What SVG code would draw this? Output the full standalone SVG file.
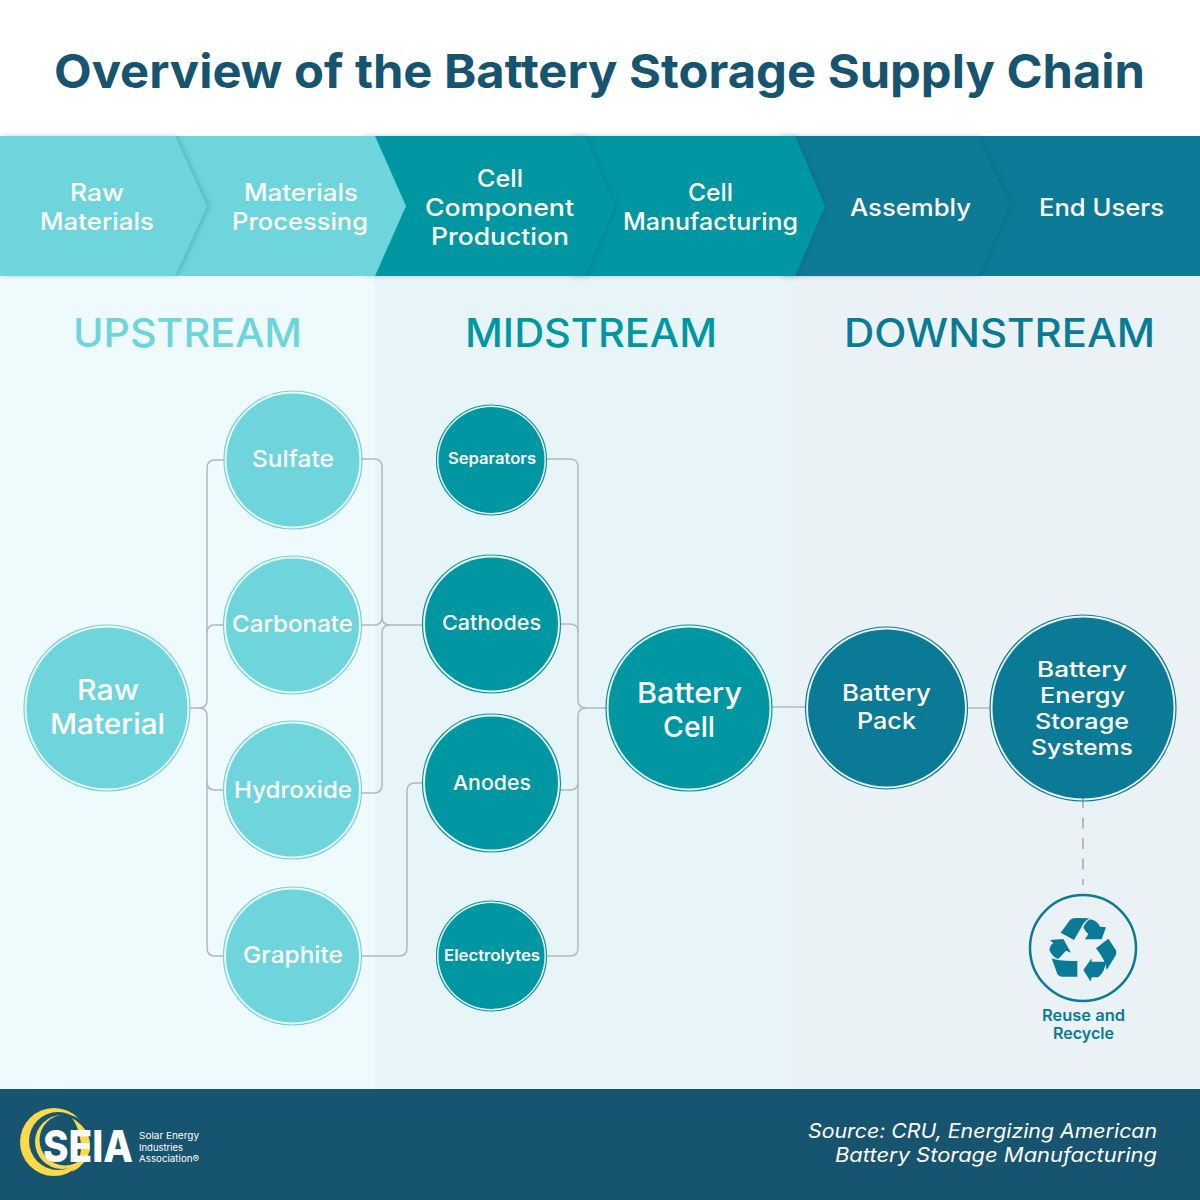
<svg xmlns="http://www.w3.org/2000/svg" width="1200" height="1200" viewBox="0 0 1200 1200">
<style>
text{font-family:Inter,"Open Sans","Liberation Sans",sans-serif;font-weight:500;fill:#fff}
.title{font-size:47px;font-weight:700;fill:#17546f}
.st{font-size:24px}
.sec{font-size:39px;font-weight:500}
.f29{font-size:28px}.f24{font-size:23.5px}.f22{font-size:21.5px}.f21{font-size:20.5px}.f16{font-size:15.5px;font-weight:600}.f30{font-size:29px}
.n{stroke-width:1.2;fill:none}
.c{fill:none;stroke:#b3b8bb;stroke-width:1.5}
.lt{fill:#6dd5db}.md{fill:#0097a2}.dk{fill:#0a7a96}
.lts{stroke:#6dd5db}.mds{stroke:#0097a2}.dks{stroke:#0a7a96}
.ref{font-size:16px;font-weight:600;fill:#0a7a96}
.src{font-size:20px;font-style:italic;font-weight:400}
.lg{font-size:9.2px;font-weight:400}
</style>
<defs>
<filter id="sh" x="-10%" y="-10%" width="125%" height="120%"><feDropShadow dx="2" dy="0" stdDeviation="2.5" flood-color="#0b4f6b" flood-opacity=".25"/></filter>
</defs>
<rect width="1200" height="1200" fill="#fff"/>
<g id="backgrounds">
<rect x="0" y="276" width="375" height="813" fill="#eefafc"/>
<rect x="375" y="276" width="417" height="813" fill="#e8f5f8"/>
<rect x="792" y="276" width="408" height="813" fill="#eaf2f6"/>
<rect x="0" y="1089" width="1200" height="111" fill="#17546f"/>
</g>
<text class="title" x="54" y="88" textLength="1091" lengthAdjust="spacingAndGlyphs">Overview of the Battery Storage Supply Chain</text>
<g id="stages">
<g id="stage-end-users"><rect class="dk" x="960" y="136" width="240" height="140"/></g>
<g id="stage-assembly"><polygon class="dk" points="780,136 978,136 1010,206 978,276 780,276" filter="url(#sh)"/></g>
<g id="stage-cell-mfg"><polygon class="md" points="570,136 795,136 825,206 795,276 570,276" filter="url(#sh)"/></g>
<g id="stage-cell-comp"><polygon class="md" points="360,136 585,136 615,206 585,276 360,276" filter="url(#sh)"/></g>
<g id="stage-processing"><polygon class="lt" points="160,136 375,136 406,206 375,276 160,276"/></g>
<g id="stage-raw"><polygon class="lt" points="0,136 175,136 207,206 175,276 0,276" filter="url(#sh)"/></g>
<text class="st" x="70" y="201" textLength="54" lengthAdjust="spacingAndGlyphs">Raw</text>
<text class="st" x="40" y="230" textLength="114" lengthAdjust="spacingAndGlyphs">Materials</text>
<text class="st" x="244" y="201" textLength="114" lengthAdjust="spacingAndGlyphs">Materials</text>
<text class="st" x="232" y="230" textLength="136" lengthAdjust="spacingAndGlyphs">Processing</text>
<text class="st" x="477" y="187" textLength="46" lengthAdjust="spacingAndGlyphs">Cell</text>
<text class="st" x="425" y="216" textLength="149" lengthAdjust="spacingAndGlyphs">Component</text>
<text class="st" x="431" y="245" textLength="138" lengthAdjust="spacingAndGlyphs">Production</text>
<text class="st" x="688" y="201" textLength="45" lengthAdjust="spacingAndGlyphs">Cell</text>
<text class="st" x="623" y="230" textLength="175" lengthAdjust="spacingAndGlyphs">Manufacturing</text>
<text class="st" x="850" y="216" textLength="121" lengthAdjust="spacingAndGlyphs">Assembly</text>
<text class="st" x="1039" y="216" textLength="125" lengthAdjust="spacingAndGlyphs">End Users</text>
</g>
<g id="sections">
<text class="sec" x="73" y="347" textLength="229" lengthAdjust="spacingAndGlyphs" style="fill:#6dd5db">UPSTREAM</text>
<text class="sec" x="465" y="347" textLength="252" lengthAdjust="spacingAndGlyphs" style="fill:#0097a2">MIDSTREAM</text>
<text class="sec" x="844" y="347" textLength="311" lengthAdjust="spacingAndGlyphs" style="fill:#0a7a96">DOWNSTREAM</text>
</g>
<g id="connectors">
<path class="c" d="M190,708H199Q207,708 207,700V468Q207,460 215,460H224"/>
<path class="c" d="M207,633Q207,625 215,625H224"/>
<path class="c" d="M199,708Q207,708 207,716V948Q207,956 215,956H224"/>
<path class="c" d="M207,782Q207,790 215,790H224"/>
<path class="c" d="M361,459H374Q382,459 382,467V617Q382,625 390,625H423"/>
<path class="c" d="M361,625H374Q382,625 382,617"/>
<path class="c" d="M361,793H374Q382,793 382,785V633Q382,625 390,625"/>
<path class="c" d="M361,956H399Q407,956 407,948V791Q407,783 415,783H423"/>
<path class="c" d="M546,459H570Q578,459 578,467V700Q578,708 586,708H607"/>
<path class="c" d="M560,624H570Q578,624 578,632"/>
<path class="c" d="M560,790H570Q578,790 578,782"/>
<path class="c" d="M546,956H570Q578,956 578,948V716Q578,708 586,708"/>
<path class="c" d="M772,707H806"/>
<path class="c" d="M967,708H990"/>
<path class="c" d="M1083,797V885" style="stroke:#a3a8ab;stroke-dasharray:11 9.5"/>
</g>
<g id="raw-material"><circle class="lt" cx="107" cy="708" r="80.500"/><circle class="n lts" cx="107" cy="708" r="83"/>
<text class="f29" x="77" y="700" textLength="62" lengthAdjust="spacingAndGlyphs">Raw</text><text class="f29" x="50" y="734" textLength="115" lengthAdjust="spacingAndGlyphs">Material</text></g>
<g id="sulfate"><circle class="lt" cx="293" cy="460" r="66.500"/><circle class="n lts" cx="293" cy="460" r="69"/>
<text class="f24" x="252" y="467" textLength="82" lengthAdjust="spacingAndGlyphs">Sulfate</text></g>
<g id="carbonate"><circle class="lt" cx="292.500" cy="625" r="66.500"/><circle class="n lts" cx="292.500" cy="625" r="69"/>
<text class="f24" x="232" y="632" textLength="121" lengthAdjust="spacingAndGlyphs">Carbonate</text></g>
<g id="hydroxide"><circle class="lt" cx="292.500" cy="790" r="66.500"/><circle class="n lts" cx="292.500" cy="790" r="69"/>
<text class="f24" x="234" y="798" textLength="118" lengthAdjust="spacingAndGlyphs">Hydroxide</text></g>
<g id="graphite"><circle class="lt" cx="292.500" cy="956" r="66.500"/><circle class="n lts" cx="292.500" cy="956" r="69"/>
<text class="f24" x="243" y="963" textLength="100" lengthAdjust="spacingAndGlyphs">Graphite</text></g>
<g id="separators"><circle class="md" cx="491.500" cy="460" r="53"/><circle class="n mds" cx="491.500" cy="460" r="55"/>
<text class="f16" x="448" y="464" textLength="88" lengthAdjust="spacingAndGlyphs">Separators</text></g>
<g id="cathodes"><circle class="md" cx="491.500" cy="624" r="66.500"/><circle class="n mds" cx="491.500" cy="624" r="69"/>
<text class="f21" x="442" y="630" textLength="99" lengthAdjust="spacingAndGlyphs">Cathodes</text></g>
<g id="anodes"><circle class="md" cx="491.500" cy="783" r="66.500"/><circle class="n mds" cx="491.500" cy="783" r="69"/>
<text class="f21" x="453" y="790" textLength="78" lengthAdjust="spacingAndGlyphs">Anodes</text></g>
<g id="electrolytes"><circle class="md" cx="491.500" cy="956" r="53"/><circle class="n mds" cx="491.500" cy="956" r="55"/>
<text class="f16" x="444" y="961" textLength="96" lengthAdjust="spacingAndGlyphs">Electrolytes</text></g>
<g id="battery-cell"><circle class="md" cx="689" cy="708" r="80.500"/><circle class="n mds" cx="689" cy="708" r="83"/>
<text class="f30" x="637" y="703" textLength="105" lengthAdjust="spacingAndGlyphs">Battery</text><text class="f30" x="663" y="737" textLength="52" lengthAdjust="spacingAndGlyphs">Cell</text></g>
<g id="battery-pack"><circle class="dk" cx="886.500" cy="708" r="78.500"/><circle class="n dks" cx="886.500" cy="708" r="81"/>
<text class="f24" x="842" y="701" textLength="89" lengthAdjust="spacingAndGlyphs">Battery</text><text class="f24" x="857" y="729" textLength="59" lengthAdjust="spacingAndGlyphs">Pack</text></g>
<g id="bess"><circle class="dk" cx="1083" cy="708" r="90.500"/><circle class="n dks" cx="1083" cy="708" r="93"/>
<text class="f22" x="1037" y="677" textLength="90" lengthAdjust="spacingAndGlyphs">Battery</text><text class="f22" x="1040" y="703" textLength="85" lengthAdjust="spacingAndGlyphs">Energy</text><text class="f22" x="1035" y="729" textLength="94" lengthAdjust="spacingAndGlyphs">Storage</text><text class="f22" x="1031" y="755" textLength="102" lengthAdjust="spacingAndGlyphs">Systems</text></g>
<g id="reuse-recycle">
<circle cx="1083" cy="948" r="53" fill="none" stroke="#0a7a96" stroke-width="2.500"/>
<g class="dk" transform="translate(1000,780) scale(.33333)">
<path d="M182,458L210,420Q215,414 228,414L268,415Q252,425 245,440L222,480Z"/>
<path d="M250,442Q258,424 270,418Q290,420 300,440L318,442L305,478H255L265,462Q255,455 250,442Z"/>
<path d="M325,476L346,508Q352,518 346,528L320,570Q316,540 288,505Z"/>
<path d="M272,605L250,570L275,535L275,545H316Q318,570 295,592H275Z"/>
<path d="M155,535Q180,545 232,543V590H185Q178,590 172,582Z"/>
<path d="M150,480L190,477L213,518L198,512L175,537Q158,532 148,510Q150,495 160,490Z"/>
</g>
<text class="ref" x="1042" y="1021" textLength="83" lengthAdjust="spacingAndGlyphs">Reuse and</text>
<text class="ref" x="1053" y="1039" textLength="61" lengthAdjust="spacingAndGlyphs">Recycle</text>
</g>
<g id="logo">
<circle cx="54" cy="1142" r="34" fill="#fbd94a"/>
<circle cx="58" cy="1141" r="29" fill="#17546f"/>
<circle cx="62" cy="1142" r="27" fill="#fbd94a"/>
<circle cx="65" cy="1140" r="25.500" fill="#17546f"/>
<path d="M72,1118Q92,1130 90,1150Q86,1165 72,1172Q84,1155 80,1138Q78,1126 72,1118Z" fill="#fbd94a"/>
<text x="43" y="1162" font-size="44" textLength="90" lengthAdjust="spacingAndGlyphs" style="font-weight:800">SEIA</text>
<text class="lg" x="139" y="1139" textLength="60" lengthAdjust="spacingAndGlyphs">Solar Energy</text>
<text class="lg" x="139" y="1151" textLength="44" lengthAdjust="spacingAndGlyphs">Industries</text>
<text class="lg" x="139" y="1162" textLength="60" lengthAdjust="spacingAndGlyphs">Association®</text>
</g>
<g id="source">
<text class="src" x="808" y="1138" textLength="349" lengthAdjust="spacingAndGlyphs">Source: CRU, Energizing American</text>
<text class="src" x="835" y="1162" textLength="322" lengthAdjust="spacingAndGlyphs">Battery Storage Manufacturing</text>
</g>
</svg>
